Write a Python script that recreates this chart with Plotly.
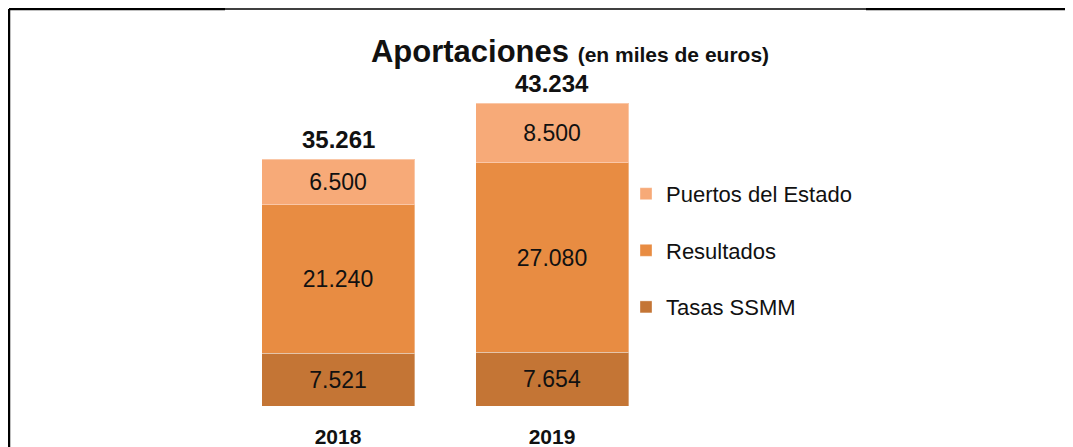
import plotly.graph_objects as go

years = ["2018", "2019"]
tasas = [7521, 7654]
resultados = [21240, 27080]
puertos = [6500, 8500]
totales = [35261, 43234]
series_names = ["Tasas SSMM", "Resultados", "Puertos del Estado"]
legend_ranks = [3, 2, 1]
colors = ["#C47535", "#E88C42", "#F7AA78"]

FONT = "Liberation Sans Narrow, Arial Narrow, Liberation Sans, Arial"

# The page body has an 8px margin, so work in page pixels and subtract OFF.
OFF = 8
W, H = 1073 - OFF, 447 - OFF
L, R_EDGE, T, B_EDGE = 231 - OFF, 659 - OFF, 91 - OFF, 406 - OFF


def fmt(v):
    return f"{v:,}".replace(",", ".")


fig = go.Figure()
for name, vals, col, rk in zip(series_names, [tasas, resultados, puertos], colors, legend_ranks):
    fig.add_trace(go.Bar(
        x=years, y=vals, name=name, legendgroup=name, legendrank=rk,
        marker=dict(color=col, line=dict(color="rgba(255,255,255,0.35)", width=1)),
        text=[fmt(v) for v in vals], textposition="inside",
        insidetextanchor="middle", textangle=0,
        textfont=dict(family=FONT, size=23, color="#111111"),
        width=0.715, hoverinfo="skip",
    ))

for i, tot in enumerate(totales):
    fig.add_annotation(x=i, y=tot, xref="x", yref="y", text=f"<b>{fmt(tot)}</b>",
                       showarrow=False, yshift=20, yanchor="middle",
                       font=dict(family=FONT, size=24, color="#111111"))

fig.update_layout(
    width=W, height=H, autosize=False,
    barmode="stack",
    paper_bgcolor="white", plot_bgcolor="white",
    margin=dict(l=L, r=W - R_EDGE, t=T, b=H - B_EDGE),
    title=dict(
        text="<b>Aportaciones</b> <b><span style='font-size:21px'>(en miles de euros)</span></b>",
        xref="container", x=(570 - OFF) / W, xanchor="center",
        yref="container", y=1 - (51 - OFF) / H, yanchor="middle",
        font=dict(family=FONT, size=31, color="#111111"),
    ),
    legend=dict(
        x=(626 - OFF - L) / (R_EDGE - L), xanchor="left", y=0.74, yanchor="top",
        traceorder="grouped", tracegroupgap=25,
        font=dict(family=FONT, size=22, color="#111111"),
        bgcolor="rgba(0,0,0,0)",
    ),
    xaxis=dict(type="category", showgrid=False, showline=False, zeroline=False, ticks="",
               tickfont=dict(family=FONT, size=21, color="#111111", weight="bold"),
               ticklabelstandoff=16, automargin=False, range=[-0.5, 1.5]),
    yaxis=dict(visible=False, range=[0, 45000], automargin=False),
    showlegend=True,
)

# decorative frame (page pixel positions converted to paper coordinates)
frame = [
    dict(x0=8, x1=225, y0=9, y1=9, w=2.5),
    dict(x0=225, x1=866, y0=8, y1=8, w=1.5),
    dict(x0=866, x1=1073, y0=9, y1=9, w=2.5),
    dict(x0=9, x1=9, y0=8, y1=447, w=2.5),
]
for s in frame:
    x0, x1 = s["x0"] - OFF, s["x1"] - OFF
    y0, y1 = s["y0"] - OFF, s["y1"] - OFF
    x0, x1 = max(x0, 1), max(x1, 1)
    y0, y1 = max(y0, 1), max(y1, 1)
    fig.add_shape(type="line", xref="paper", yref="paper",
                  x0=(x0 - L) / (R_EDGE - L), x1=(x1 - L) / (R_EDGE - L),
                  y0=(B_EDGE - y0) / (B_EDGE - T), y1=(B_EDGE - y1) / (B_EDGE - T),
                  line=dict(color="black", width=s["w"]))

fig.write_html("out.html", config={"displayModeBar": False})
